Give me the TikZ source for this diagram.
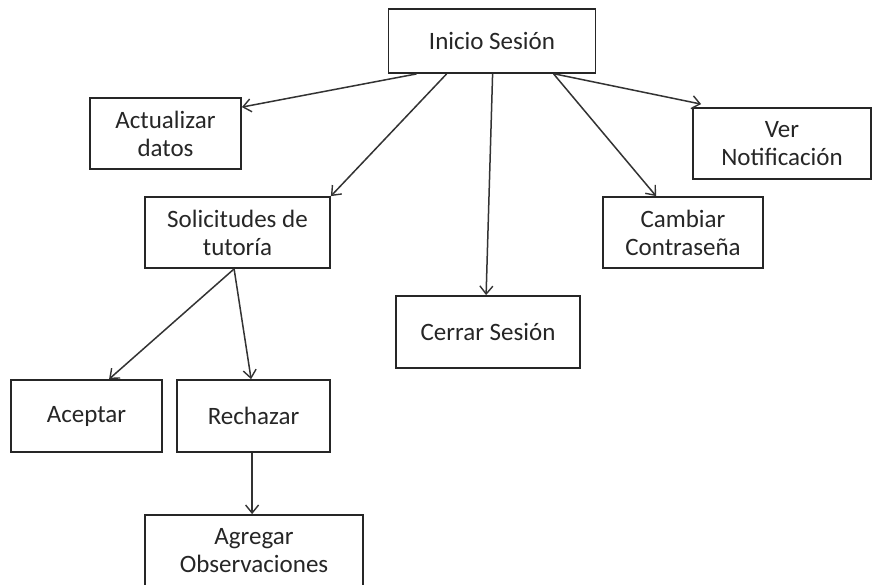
\documentclass[tikz,border=0pt]{standalone}
\usepackage{fontspec}
\setmainfont{Carlito}
\usetikzlibrary{arrows.meta}
\begin{document}
\begin{tikzpicture}[x=1pt,y=-1pt,
  box/.style={draw=black!85, line width=1.8pt, fill=white, align=center,
    inner sep=2pt, font=\fontsize{25}{28}\selectfont, text=black!85},
  conn/.style={draw=black!80, line width=1.5pt,
    -{Straight Barb[length=8pt,width=13pt,line width=1.4pt]}}]
\clip (0,0) rectangle (872,584);
\fill[white] (0,0) rectangle (872,584);
\node[box, minimum width=207pt, minimum height=64pt] (ini) at (492,41) {Inicio Sesión};
\node[box, minimum width=151pt, minimum height=71pt] (act) at (165.5,133.5) {Actualizar\\datos};
\node[box, minimum width=178pt, minimum height=71pt] (ver) at (782,143.5) {Ver\\Notificación};
\node[box, minimum width=185pt, minimum height=71pt] (sol) at (237.5,232.5) {Solicitudes de\\tutoría};
\node[box, minimum width=160pt, minimum height=71pt] (cam) at (683,232.5) {Cambiar\\Contraseña};
\node[box, minimum width=184pt, minimum height=72pt] (cer) at (488,332) {Cerrar Sesión};
\node[box, minimum width=151pt, minimum height=72pt] (ace) at (86.5,416) {Aceptar};
\node[box, minimum width=153pt, minimum height=72pt] (rec) at (253.5,416) {Rechazar};
\node[box, minimum width=218pt, minimum height=71pt] (agr) at (254,550.5) {Agregar\\Observaciones};

\draw[conn] ([xshift=29pt]ini.south west) -- ([yshift=-10pt]act.north east);
\draw[conn] ([xshift=59pt]ini.south west) -- (sol.north east);
\draw[conn] ([xshift=105pt]ini.south west) -- ([xshift=91pt]cer.north west);
\draw[conn] ([xshift=166pt]ini.south west) -- ([xshift=54pt]cam.north west);
\draw[conn] ([xshift=167pt]ini.south west) -- ([xshift=9pt,yshift=3pt]ver.north west);
\draw[conn] ([xshift=90pt]sol.south west) -- ([xshift=99pt]ace.north west);
\draw[conn] ([xshift=90pt]sol.south west) -- ([xshift=75pt]rec.north west);
\draw[conn] ([xshift=76pt]rec.south west) -- ([xshift=108pt]agr.north west);
\end{tikzpicture}
\end{document}
